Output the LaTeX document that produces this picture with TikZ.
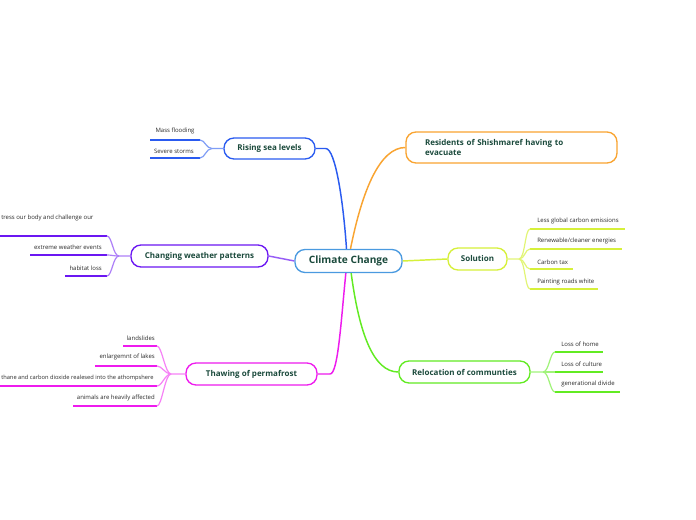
\documentclass[tikz,border=0pt]{standalone}
\usepackage{fontspec}
\setmainfont{Open Sans}
\begin{document}
\begin{tikzpicture}[x=0.75pt,y=-0.75pt,
  every node/.style={text=txt},
  topic/.style={draw,rounded corners=7.5pt,line width=1pt,fill=white,inner sep=0pt,font=\bfseries\fontsize{6}{7}\selectfont},
  leaf/.style={inner sep=0pt,text=leaftxt,font=\fontsize{4.5}{5}\selectfont},
  uline/.style={line width=1.6pt},
  conn/.style={line width=1.1pt},
  sconn/.style={line width=0.9pt}]
\definecolor{txt}{HTML}{1B4A3C}
\definecolor{leaftxt}{HTML}{2A2A2A}
\definecolor{cblue}{HTML}{2A5BF0}
\definecolor{corange}{HTML}{F9A431}
\definecolor{cpurple}{HTML}{6B17F2}
\definecolor{cyell}{HTML}{D6F03A}
\definecolor{cgreen}{HTML}{62EB22}
\definecolor{cmag}{HTML}{EE1BEE}
\definecolor{ccent}{HTML}{4A9AE0}
\useasboundingbox (0,0) rectangle (696,520);
\fill[white] (0,0) rectangle (696,520);

% topic boxes
\node[topic,draw=ccent,minimum width=80.25pt,minimum height=17.25pt,font=\bfseries\fontsize{7.6}{9}\selectfont] (cc) at (348.5,261) {Climate Change};
\node[topic,draw=cblue,minimum width=68.25pt,minimum height=15.75pt] (rs) at (269.5,148.5) {Rising sea levels};
\node[topic,draw=corange,minimum width=158.25pt,minimum height=23.25pt,align=left,text width=129.75pt,inner xsep=14.25pt] (res) at (511.5,147.5) {Residents of Shishmaref having to\\evacuate};
\node[topic,draw=cpurple,minimum width=102.75pt,minimum height=16.5pt] (cw) at (199.5,256) {Changing weather patterns};
\node[topic,draw=cyell,minimum width=44.25pt,minimum height=16.5pt] (sol) at (477.5,259) {Solution};
\node[topic,draw=cgreen,minimum width=98.25pt,minimum height=16.5pt] (rel) at (464.5,372) {Relocation of communties};
\node[topic,draw=cmag,minimum width=98.25pt,minimum height=16.5pt] (th) at (251.5,374) {Thawing of permafrost};

% central connectors
\draw[conn,cblue] (rs.east) -- ++(10,0) .. controls +(10,0) and +(-3,-45) .. ([xshift=-1.5pt]cc.north);
\draw[conn,corange] ([xshift=1.5pt]cc.north) .. controls +(12,-60) and +(-25,0) .. (res.west);
\draw[conn,cpurple!70] (cc.west) -- (cw.east);
\draw[conn,cyell] (cc.east) -- (sol.west);
\draw[conn,cgreen] ([xshift=2pt]cc.south) .. controls +(8,60) and +(-25,0) .. (rel.west);
\draw[conn,cmag] ([xshift=-2pt]cc.south) .. controls +(-5,50) and +(8,0) .. (330,374) -- (th.east);

% Rising sea levels leaves
\node[leaf] (rs1) at (175,131) {Mass flooding};
\node[leaf] (rs2) at (174,151) {Severe storms};
\coordinate (rs1a) at (150,140); \coordinate (rs1b) at (200,140);
\coordinate (rs2a) at (150,158); \coordinate (rs2b) at (200,158);
\coordinate (rsj) at (212,148.5);
\draw[uline,cblue] (rs1a) -- (rs1b);
\draw[uline,cblue] (rs2a) -- (rs2b);
\draw[sconn,cblue!60] (rs.west) -- (rsj) .. controls +(-6,0) and +(5,0) .. (rs1b);
\draw[sconn,cblue!60] (rsj) .. controls +(-6,0) and +(5,0) .. (rs2b);

% Changing weather leaves
\node[leaf,anchor=west] (cw1) at (1,218) {tress our body and challenge our};
\node[leaf,anchor=east] (cw2) at (102,247) {extreme weather events};
\node[leaf,anchor=east] (cw3) at (102,268) {habitat loss};
\coordinate (cw1a) at (0,236); \coordinate (cw1b) at (107,236);
\coordinate (cw2a) at (30,255); \coordinate (cw2b) at (107,255);
\coordinate (cw3a) at (65,276); \coordinate (cw3b) at (107,276);
\coordinate (cwj) at (119,256);
\draw[uline,cpurple] (cw1a) -- (cw1b);
\draw[uline,cpurple] (cw2a) -- (cw2b);
\draw[uline,cpurple] (cw3a) -- (cw3b);
\draw[sconn,cpurple!55] (cw.west) -- (cwj) .. controls +(-6,0) and +(5,0) .. (cw1b);
\draw[sconn,cpurple!55] (cwj) .. controls +(-6,0) and +(5,0) .. (cw2b);
\draw[sconn,cpurple!55] (cwj) .. controls +(-6,0) and +(5,0) .. (cw3b);

% Thawing leaves
\node[leaf,anchor=east] (th1) at (155,338) {landslides};
\node[leaf,anchor=east] (th2) at (155,357) {enlargemnt of lakes};
\node[leaf,anchor=west,font=\fontsize{4.3}{5}\selectfont] (th3) at (1,378) {thane and carbon dioxide realesed into the athompshere};
\node[leaf,anchor=east] (th4) at (155,398) {animals are heavily affected};
\coordinate (th1a) at (123,346); \coordinate (th1b) at (157,346);
\coordinate (th2a) at (95,366); \coordinate (th2b) at (157,366);
\coordinate (th3a) at (0,386); \coordinate (th3b) at (157,386);
\coordinate (th4a) at (73,406); \coordinate (th4b) at (157,406);
\coordinate (thj) at (171,374);
\draw[uline,cmag] (th1a) -- (th1b);
\draw[uline,cmag] (th2a) -- (th2b);
\draw[uline,cmag] (th3a) -- (th3b);
\draw[uline,cmag] (th4a) -- (th4b);
\draw[sconn,cmag!55] (th.west) -- (thj) .. controls +(-6,0) and +(5,0) .. (th1b);
\draw[sconn,cmag!55] (thj) .. controls +(-6,0) and +(5,0) .. (th2b);
\draw[sconn,cmag!55] (thj) .. controls +(-6,0) and +(5,0) .. (th3b);
\draw[sconn,cmag!55] (thj) .. controls +(-6,0) and +(5,0) .. (th4b);

% Solution leaves
\node[leaf,anchor=west] (s1) at (537,221) {Less global carbon emissions};
\node[leaf,anchor=west] (s2) at (537,241) {Renewable/cleaner energies};
\node[leaf,anchor=west] (s3) at (537,262) {Carbon tax};
\node[leaf,anchor=west] (s4) at (537,282) {Painting roads white};
\coordinate (s1a) at (530,229); \coordinate (s1b) at (625,229);
\coordinate (s2a) at (530,249); \coordinate (s2b) at (622,249);
\coordinate (s3a) at (530,269); \coordinate (s3b) at (573,269);
\coordinate (s4a) at (530,289); \coordinate (s4b) at (598,289);
\coordinate (sj) at (519,259);
\draw[uline,cyell] (s1a) -- (s1b);
\draw[uline,cyell] (s2a) -- (s2b);
\draw[uline,cyell] (s3a) -- (s3b);
\draw[uline,cyell] (s4a) -- (s4b);
\draw[sconn,cyell!70] (sol.east) -- (sj) .. controls +(6,0) and +(-5,0) .. (s1a);
\draw[sconn,cyell!70] (sj) .. controls +(6,0) and +(-5,0) .. (s2a);
\draw[sconn,cyell!70] (sj) .. controls +(6,0) and +(-5,0) .. (s3a);
\draw[sconn,cyell!70] (sj) .. controls +(6,0) and +(-5,0) .. (s4a);

% Relocation leaves
\node[leaf,anchor=west] (r1) at (561,344) {Loss of home};
\node[leaf,anchor=west] (r2) at (561,364) {Loss of culture};
\node[leaf,anchor=west] (r3) at (561,384) {generational divide};
\coordinate (r1a) at (555,352); \coordinate (r1b) at (603,352);
\coordinate (r2a) at (555,372); \coordinate (r2b) at (603,372);
\coordinate (r3a) at (555,392); \coordinate (r3b) at (620,392);
\coordinate (rj) at (543,372);
\draw[uline,cgreen] (r1a) -- (r1b);
\draw[uline,cgreen] (r2a) -- (r2b);
\draw[uline,cgreen] (r3a) -- (r3b);
\draw[sconn,cgreen!60] (rel.east) -- (rj) .. controls +(6,0) and +(-5,0) .. (r1a);
\draw[sconn,cgreen!60] (rj) -- (r2a);
\draw[sconn,cgreen!60] (rj) .. controls +(6,0) and +(-5,0) .. (r3a);
\end{tikzpicture}
\end{document}
